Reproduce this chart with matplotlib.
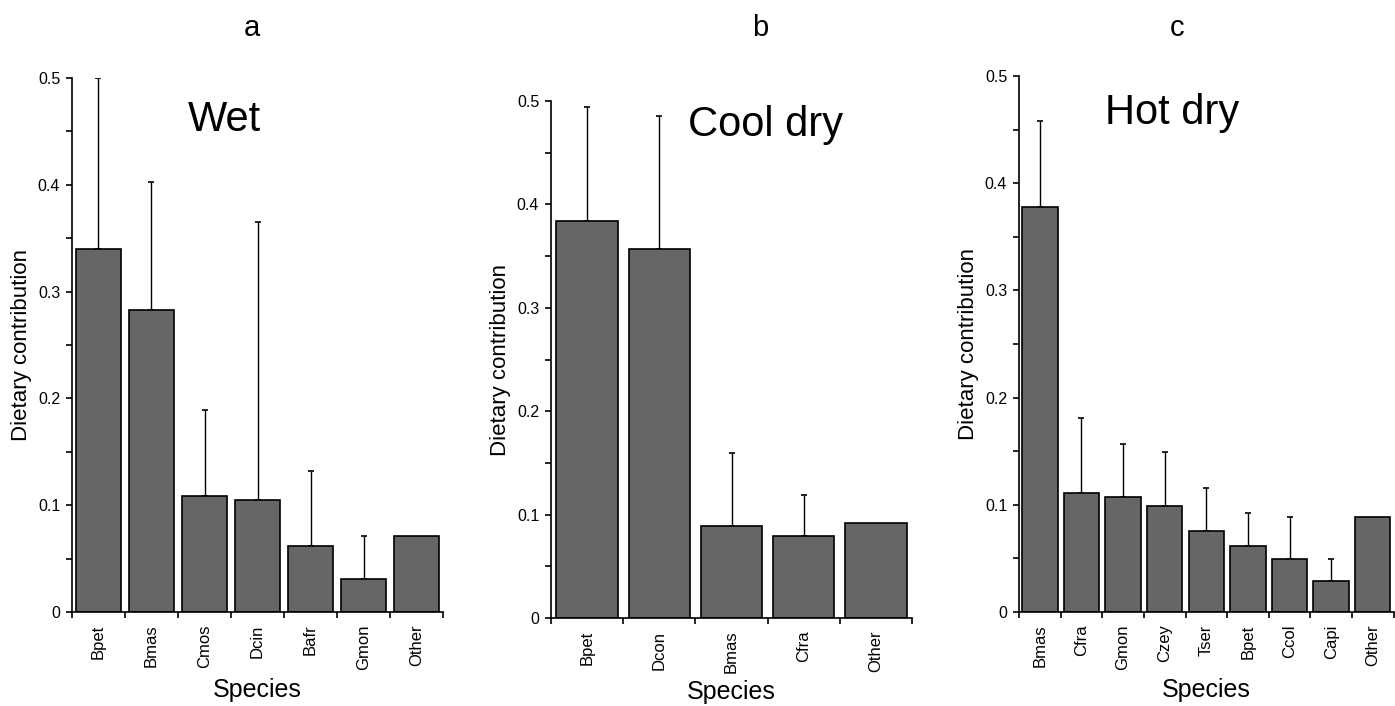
import matplotlib
matplotlib.use("Agg")
import matplotlib.pyplot as plt
import numpy as np

plt.rcParams['font.family'] = ['Liberation Sans', 'DejaVu Sans']

# panel a - wet season
wet_species = ['Bpet', 'Bmas', 'Cmos', 'Dcin', 'Bafr', 'Gmon', 'Other']
wet_mean = [0.340, 0.283, 0.109, 0.105, 0.062, 0.031, 0.071]
wet_upper = [0.500, 0.403, 0.189, 0.365, 0.132, 0.071, None]

# panel b - cool dry season
cool_species = ['Bpet', 'Dcon', 'Bmas', 'Cfra', 'Other']
cool_mean = [0.384, 0.357, 0.089, 0.079, 0.092]
cool_upper = [0.494, 0.486, 0.160, 0.119, None]

# panel c - hot dry season
hot_species = ['Bmas', 'Cfra', 'Gmon', 'Czey', 'Tser', 'Bpet', 'Ccol', 'Capi', 'Other']
hot_mean = [0.378, 0.111, 0.107, 0.099, 0.076, 0.062, 0.049, 0.029, 0.089]
hot_upper = [0.458, 0.181, 0.157, 0.149, 0.116, 0.092, 0.089, 0.049, None]

panel_letters = ['a', 'b', 'c']
season_names = ['Wet', 'Cool dry', 'Hot dry']

fig = plt.figure(figsize=(13.95, 7.06), dpi=100)

# axes rectangles in figure fraction
rects = [
    [0.0516, 0.1331, 0.2660, 0.7564],
    [0.3950, 0.1246, 0.2588, 0.7323],
    [0.7305, 0.1331, 0.2685, 0.7593],
]
title_pos = [(0.412, 0.921), (0.593, 0.954), (0.410, 0.931)]
xlabel_y = [-0.146, -0.143, -0.146]
letter_x = [252 / 1395, 760 / 1395, 1177 / 1395]

panels = [
    (wet_species, wet_mean, wet_upper),
    (cool_species, cool_mean, cool_upper),
    (hot_species, hot_mean, hot_upper),
]

for i, (species, mean, upper) in enumerate(panels):
    ax = fig.add_axes(rects[i])
    x = np.arange(len(species))
    mean = np.array(mean)
    ax.bar(x, mean, width=0.85, color='#666666', edgecolor='black', linewidth=1.2, zorder=2)

    # upper-only error bars (Other has none)
    idx = [k for k, u in enumerate(upper) if u is not None]
    err = np.array([upper[k] - mean[k] for k in idx])
    ax.errorbar(x[idx], mean[idx], yerr=[np.zeros(len(idx)), err], fmt='none',
                ecolor='black', elinewidth=1.0, capsize=2.5, capthick=1.2, zorder=1)

    ax.set_xlim(-0.5, len(species) - 0.5)
    ax.set_ylim(0, 0.5)
    ax.spines['top'].set_visible(False)
    ax.spines['right'].set_visible(False)
    ax.spines['left'].set_linewidth(1.2)
    ax.spines['bottom'].set_linewidth(1.2)

    ax.set_yticks([0, 0.1, 0.2, 0.3, 0.4, 0.5])
    ax.set_yticklabels(['0', '0.1', '0.2', '0.3', '0.4', '0.5'], fontsize=11.5)
    ax.set_yticks(np.arange(0.05, 0.5, 0.1), minor=True)
    ax.tick_params(axis='y', which='both', direction='out', length=4, width=1.2, pad=4.5)

    ax.set_xticks(x)
    ax.set_xticklabels(species, rotation=90, fontsize=12)
    ax.set_xticks(np.arange(len(species) + 1) - 0.5, minor=True)
    ax.tick_params(axis='x', which='major', length=0, pad=9)
    ax.tick_params(axis='x', which='minor', direction='out', length=4, width=1.2)

    ax.set_xlabel('Species', fontsize=18, va='center')
    ax.xaxis.set_label_coords(0.5, xlabel_y[i])
    ax.set_ylabel('Dietary contribution', fontsize=16, labelpad=4)
    ax.text(title_pos[i][0], title_pos[i][1], season_names[i], transform=ax.transAxes,
            fontsize=30, ha='center', va='center')

    fig.text(letter_x[i], 1 - 28 / 706, panel_letters[i], fontsize=21, ha='center', va='center')

fig.savefig('out.png', dpi=100)
